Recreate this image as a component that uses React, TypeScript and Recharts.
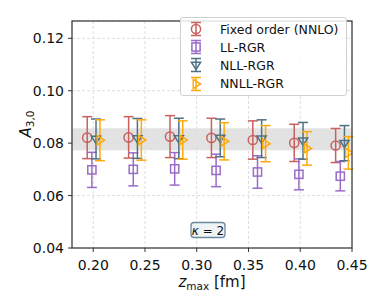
import { ScatterChart, Scatter, XAxis, YAxis, CartesianGrid, ErrorBar, ReferenceArea } from "recharts"

const zMax = [0.2, 0.24, 0.28, 0.32, 0.36, 0.4, 0.44]

const fixedOrder = [0.0821, 0.0822, 0.0825, 0.082, 0.0812, 0.0801, 0.0791]
const fixedOrderErr = [0.008, 0.0079, 0.008, 0.0075, 0.0073, 0.0071, 0.0065]

const llRgr = [0.0698, 0.07, 0.0702, 0.0696, 0.069, 0.0681, 0.0674]
const llRgrErr = [0.0067, 0.0063, 0.0062, 0.0062, 0.0062, 0.0059, 0.0056]

const nllRgr = [0.0816, 0.0818, 0.0818, 0.082, 0.0817, 0.0809, 0.08]
const nllRgrErr = [0.0076, 0.0076, 0.0077, 0.0072, 0.0072, 0.007, 0.0067]

const nnllRgr = [0.0811, 0.0812, 0.0812, 0.0807, 0.0798, 0.078, 0.0763]
const nnllRgrErr = [0.0078, 0.0077, 0.0073, 0.0071, 0.0069, 0.0064, 0.0062]

const band = [0.0773, 0.0857]

const xTicks = [0.2, 0.25, 0.3, 0.35, 0.4, 0.45]
const yTicks = [0.04, 0.06, 0.08, 0.1, 0.12]

const FONT = "'DejaVu Sans', sans-serif"

type Marker = "circle" | "square" | "triDown" | "triRight"

const series: { name: string; color: string; marker: Marker; shift: number; values: number[]; errs: number[] }[] = [
  { name: "Fixed order (NNLO)", color: "#c9605e", marker: "circle", shift: -0.0058, values: fixedOrder, errs: fixedOrderErr },
  { name: "LL-RGR", color: "#9a6cc9", marker: "square", shift: -0.0013, values: llRgr, errs: llRgrErr },
  { name: "NLL-RGR", color: "#4f7283", marker: "triDown", shift: 0.0027, values: nllRgr, errs: nllRgrErr },
  { name: "NNLL-RGR", color: "#ffa90a", marker: "triRight", shift: 0.0065, values: nnllRgr, errs: nnllRgrErr },
]

function drawMarker(marker: Marker, cx: number, cy: number, color: string) {
  const s = 4.6
  const common = { fill: "none", stroke: color, strokeWidth: 1.5 }
  if (marker === "circle") return <circle cx={cx} cy={cy} r={s} {...common} />
  if (marker === "square") return <rect x={cx - s + 0.5} y={cy - s + 0.5} width={2 * s - 1} height={2 * s - 1} {...common} />
  if (marker === "triDown")
    return <polygon points={`${cx - s},${cy - s * 0.6} ${cx + s},${cy - s * 0.6} ${cx},${cy + s}`} {...common} />
  return <polygon points={`${cx - s * 0.6},${cy - s} ${cx - s * 0.6},${cy + s} ${cx + s},${cy}`} {...common} />
}

function LegendGlyph({ marker, color }: { marker: Marker; color: string }) {
  return (
    <svg width={20} height={16} style={{ display: "block" }}>
      <line x1={10} y1={1.5} x2={10} y2={14.5} stroke={color} strokeWidth={1.5} />
      <line x1={5} y1={1.5} x2={15} y2={1.5} stroke={color} strokeWidth={1.5} />
      <line x1={5} y1={14.5} x2={15} y2={14.5} stroke={color} strokeWidth={1.5} />
      {drawMarker(marker, 10, 8, color)}
    </svg>
  )
}

export default function App() {
  return (
    <div style={{ position: "absolute", left: 0, top: 0, width: 381, height: 305, background: "#fff", fontFamily: FONT }}>
      <ScatterChart width={381} height={305} margin={{ top: 21, right: 29, left: 0, bottom: 0 }}>
        <CartesianGrid stroke="#dedede" strokeDasharray="3 2" />
        <XAxis
          type="number"
          dataKey="x"
          domain={[0.1795, 0.45]}
          ticks={xTicks}
          allowDataOverflow
          height={57}
          axisLine={false}
          tickSize={4}
          tickMargin={8}
          tickLine={{ stroke: "#333" }}
          tickFormatter={(v: number) => v.toFixed(2)}
          tick={{ fill: "#111", fontSize: 14, fontFamily: FONT }}
        />
        <YAxis
          type="number"
          dataKey="y"
          domain={[0.04, 0.1266]}
          ticks={yTicks}
          allowDataOverflow
          width={72}
          axisLine={false}
          tickSize={4}
          tickMargin={4}
          tickLine={{ stroke: "#333" }}
          tickFormatter={(v: number) => v.toFixed(2)}
          tick={{ fill: "#111", fontSize: 14, fontFamily: FONT }}
        />
        <ReferenceArea y1={band[0]} y2={band[1]} fill="#dddddd" fillOpacity={0.85} stroke="none" />
        {series.map((s) => (
          <Scatter
            key={s.name}
            name={s.name}
            data={zMax.map((z, i) => ({ x: z + s.shift, y: s.values[i], err: s.errs[i] }))}
            isAnimationActive={false}
            shape={(p: any) => drawMarker(s.marker, p.cx, p.cy, s.color)}
          >
            <ErrorBar dataKey="err" direction="y" width={5} stroke={s.color} strokeWidth={1.5} isAnimationActive={false} />
          </Scatter>
        ))}
      </ScatterChart>

      <svg width={381} height={305} style={{ position: "absolute", left: 0, top: 0, pointerEvents: "none" }}>
        <rect x={72} y={21} width={280} height={227} fill="none" stroke="#333" strokeWidth={1.2} />
        <text x={212} y={287} textAnchor="middle" fontFamily={FONT} fontSize={15} fill="#111">
          <tspan fontStyle="italic">z</tspan>
          <tspan fontSize={10.5} dy={3}>max</tspan>
          <tspan dy={-3}> [fm]</tspan>
        </text>
        <text x={0} y={0} transform="translate(31,124) rotate(-90)" textAnchor="middle" fontFamily={FONT} fontSize={15} fill="#111">
          <tspan fontStyle="italic">A</tspan>
          <tspan fontSize={10.5} dy={3}>3,0</tspan>
        </text>
        <rect x={191} y={222.5} width={34} height={15} rx={3} fill="#eef3f6" stroke="#6d8a9a" strokeWidth={1.3} />
        <text x={208} y={234.5} textAnchor="middle" fontFamily={FONT} fontSize={12} fill="#111">
          <tspan fontStyle="italic">κ</tspan> = 2
        </text>
      </svg>

      <div
        style={{
          position: "absolute",
          left: 180,
          top: 17,
          width: 167,
          height: 79,
          boxSizing: "border-box",
          border: "1px solid #d0d0d0",
          borderRadius: 3,
          background: "rgba(255,255,255,0.85)",
          padding: "2px 0 0 5px",
        }}
      >
        {series.map((s) => (
          <div key={s.name} style={{ display: "flex", alignItems: "center", height: 18.2 }}>
            <LegendGlyph marker={s.marker} color={s.color} />
            <span style={{ marginLeft: 14, fontSize: 12.5, color: "#111", whiteSpace: "nowrap" }}>{s.name}</span>
          </div>
        ))}
      </div>
    </div>
  )
}
